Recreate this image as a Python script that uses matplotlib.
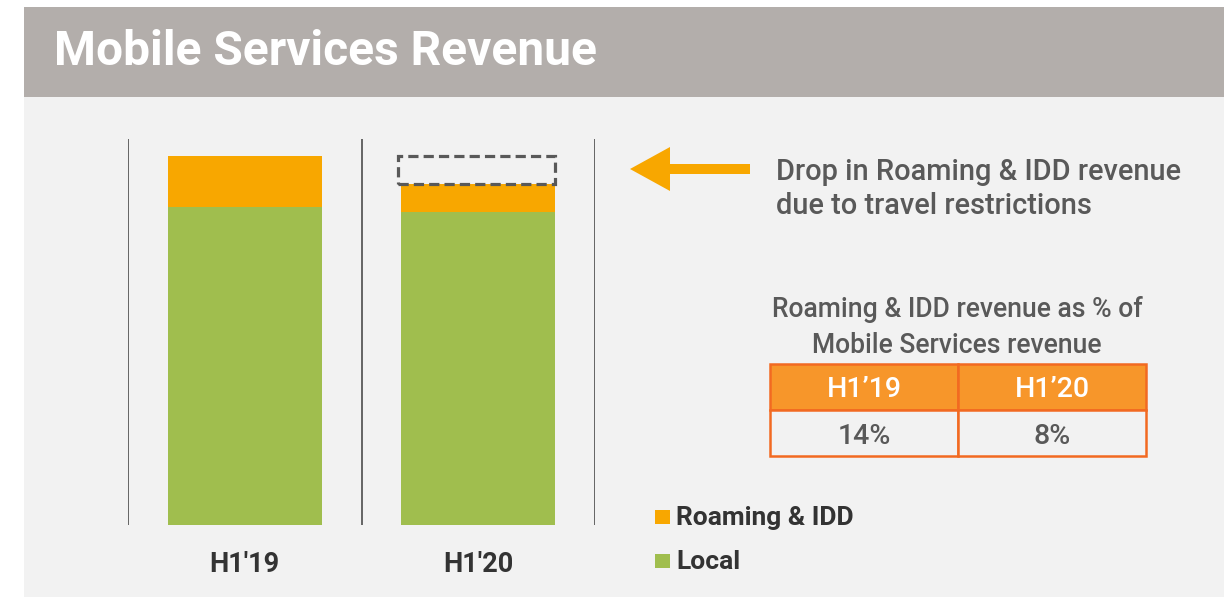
"""
Mobile Services Revenue - stacked bars H1'19 vs H1'20
"""

import matplotlib.pyplot as plt
import matplotlib.patches as mpatches

plt.rcParams["font.family"] = ["Roboto", "DejaVu Sans"]

# --- DATA ---
PERIODS = ["H1'19", "H1'20"]
LOCAL = [318, 313]
ROAMING = [51, 28]
SHARE_HDR = ["H1’19", "H1’20"]
SHARE_VAL = ["14%", "8%"]

# --- COLORS ---
C_ORANGE = "#F8A700"
C_GREEN = "#A0BE4E"
C_BAR_BG = "#B3AEAB"
C_PANEL = "#F2F2F2"
C_TXT = "#595959"
C_DARK = "#333333"
C_TBL_HDR = "#F7962A"
C_TBL_EDGE = "#F26A21"

W, H = 1231, 598
FW = "medium"


def fx(px):
    return px / W


def fy(py):
    return 1 - py / H


fig = plt.figure(figsize=(W / 100, H / 100), dpi=100)
fig.patch.set_facecolor("white")

# --- Panels ---
fig.add_artist(mpatches.Rectangle((fx(24), fy(597)), fx(1224) - fx(24), fy(97) - fy(597),
                                  transform=fig.transFigure, facecolor=C_PANEL, edgecolor="none", zorder=0))
fig.add_artist(mpatches.Rectangle((fx(24), fy(97)), fx(1224) - fx(24), fy(7) - fy(97),
                                  transform=fig.transFigure, facecolor=C_BAR_BG, edgecolor="none", zorder=0))
fig.text(fx(54), fy(65), "Mobile Services Revenue", fontsize=34.5, fontweight="bold",
         color="white", ha="left", va="baseline")

# --- Bar chart ---
ax = fig.add_axes([fx(128), fy(525), fx(595) - fx(128), fy(139) - fy(525)])
ax.set_facecolor("none")
x = range(len(PERIODS))
bw = 0.66
ax.bar(x, LOCAL, width=bw, color=C_GREEN, edgecolor="none")
ax.bar(x, ROAMING, width=bw, bottom=LOCAL, color=C_ORANGE, edgecolor="none")
ax.set_xlim(-0.5, 1.5)
ax.set_ylim(0, 386)
for xv in (-0.5, 0.5, 1.5):
    ax.axvline(xv, color="#4d4d4d", lw=1.2)
for s in ax.spines.values():
    s.set_visible(False)
ax.set_yticks([])
ax.set_xticks(list(x))
ax.set_xticklabels(PERIODS, fontsize=19.5, fontweight="bold", color=C_DARK)
ax.tick_params(axis="x", length=0, pad=19)

# dashed box = lost roaming revenue
tot = [l + r for l, r in zip(LOCAL, ROAMING)]
ax.add_patch(mpatches.Rectangle((1 - bw / 2 - 0.012, tot[1]), bw + 0.012, tot[0] - tot[1],
                                fill=False, edgecolor=C_TXT, lw=2.3, ls=(0, (3.2, 1.6)), clip_on=False))

# --- Arrow + note ---
fig.add_artist(mpatches.FancyArrow(fx(750), fy(169), fx(630) - fx(750), 0,
                                   width=10 / H, head_width=44 / H, head_length=40 / W,
                                   length_includes_head=True, transform=fig.transFigure,
                                   color=C_ORANGE, lw=0))
fig.text(fx(776), fy(180), "Drop in Roaming & IDD revenue", fontsize=20.9, color=C_TXT,
         fontweight=FW, ha="left", va="baseline")
fig.text(fx(776), fy(214), "due to travel restrictions", fontsize=20.9, color=C_TXT,
         fontweight=FW, ha="left", va="baseline")

# --- Share table ---
fig.text(fx(957), fy(317), "Roaming & IDD revenue as % of", fontsize=19.1, color=C_TXT,
         fontweight=FW, ha="center", va="baseline")
fig.text(fx(957), fy(353), "Mobile Services revenue", fontsize=19.1, color=C_TXT,
         fontweight=FW, ha="center", va="baseline")
tx0, tx1, tmid = 770, 1146, 958
ty0, ty1, ty2 = 364, 410, 456
for i, (hdr, val) in enumerate(zip(SHARE_HDR, SHARE_VAL)):
    cx0 = tx0 if i == 0 else tmid
    cx1 = tmid if i == 0 else tx1
    fig.add_artist(mpatches.Rectangle((fx(cx0), fy(ty1)), fx(cx1) - fx(cx0), fy(ty0) - fy(ty1),
                                      transform=fig.transFigure, facecolor=C_TBL_HDR,
                                      edgecolor=C_TBL_EDGE, lw=1.8))
    fig.add_artist(mpatches.Rectangle((fx(cx0), fy(ty2)), fx(cx1) - fx(cx0), fy(ty1) - fy(ty2),
                                      transform=fig.transFigure, facecolor=C_PANEL,
                                      edgecolor=C_TBL_EDGE, lw=1.8))
    cx = (cx0 + cx1) / 2
    fig.text(fx(cx), fy(397), hdr, fontsize=20.5, color="white", fontweight=FW,
             ha="center", va="baseline")
    fig.text(fx(cx), fy(444), val, fontsize=20.5, color=C_TXT, fontweight=FW,
             ha="center", va="baseline")

# --- Legend ---
for lbl, col, yc in [("Roaming & IDD", C_ORANGE, 517), ("Local", C_GREEN, 561)]:
    fig.add_artist(mpatches.Rectangle((fx(655), fy(yc + 7)), fx(670) - fx(655), fy(yc - 7) - fy(yc + 7),
                                      transform=fig.transFigure, facecolor=col, edgecolor="none"))
    fig.text(fx(676), fy(yc + 8), lbl, fontsize=19, fontweight="bold", color=C_DARK,
             ha="left", va="baseline")

fig.savefig("out.png", dpi=100)
